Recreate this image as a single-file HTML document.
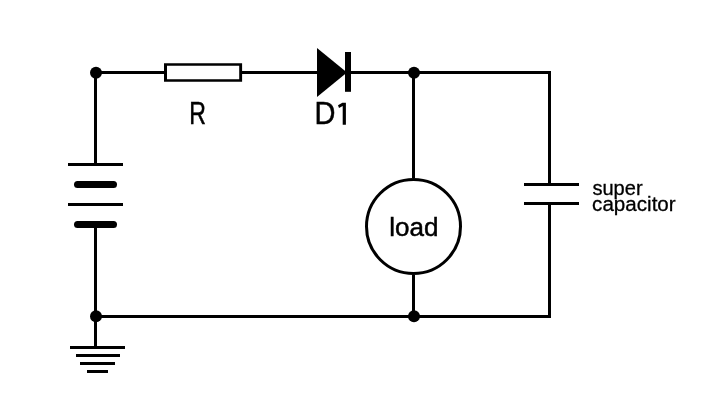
<!DOCTYPE html>
<html><head><meta charset="utf-8">
<style>
html,body{margin:0;padding:0;background:#fff;width:720px;height:401px;overflow:hidden;}
svg{display:block;will-change:transform;}
text{font-family:"Liberation Sans",sans-serif;fill:#000;}
</style></head>
<body>
<svg width="720" height="401" viewBox="0 0 720 401" xmlns="http://www.w3.org/2000/svg">
<rect x="0" y="0" width="720" height="401" fill="#fff"/>
<g fill="none" stroke="#000" stroke-width="3" stroke-linejoin="miter" stroke-linecap="butt">
  <!-- top wire -->
  <path d="M96 72.5 H164"/>
  <path d="M242 72.5 H317"/>
  <path d="M351 72.5 H549.5 V183"/>
  <!-- right wire lower -->
  <path d="M549.5 205 V316.5 H96"/>
  <!-- left wire -->
  <path d="M95.5 72.5 V163"/>
  <path d="M95.5 228 V346"/>
  <!-- load wire -->
  <path d="M413.5 72.5 V178"/>
  <path d="M413.5 275 V316.5"/>
  <!-- battery long plates -->
  <path d="M68 164.5 H123"/>
  <path d="M68 204.5 H123"/>
  <!-- capacitor plates -->
  <path d="M524 184.5 H579"/>
  <path d="M524 203.5 H579"/>
  <!-- ground -->
  <path d="M70 347.5 H125"/>
  <path d="M76 355.5 H120"/>
  <path d="M80 363.5 H115"/>
  <path d="M87 371.5 H108"/>
  <!-- load circle -->
  <circle cx="413.5" cy="226.5" r="47"/>
</g>
<g stroke="#000" stroke-width="7" stroke-linecap="round">
  <path d="M77.5 184.5 H113.5"/>
  <path d="M77.5 224.5 H113.5"/>
</g>
<g fill="#000">
  <circle cx="96" cy="72.8" r="6"/>
  <circle cx="414" cy="72.8" r="6"/>
  <circle cx="96" cy="316.2" r="6"/>
  <circle cx="414" cy="316.2" r="6"/>
  <!-- diode -->
  <path d="M317 48 L317 97 L347 72.5 Z"/>
  <rect x="345" y="52" width="6" height="39.8"/>
  <path fill-rule="evenodd" d="M164 63.2 H242.1 V81.8 H164 Z M167 65.7 V79.2 H239.2 V65.7 Z"/>
</g>
<path d="M342.4 102.8 H345.9 V124.7 H342.7 V106.0 L339 107.9 L338 105.2 Z"/>
<text transform="translate(189.168 124.478) scale(0.7171 1)" font-size="32.199" stroke="#000" stroke-width="0.488">R</text>
<text transform="translate(314.474 124.44) scale(0.9041 1)" font-size="32.086" stroke="#000" stroke-width="0.486">D</text>
<text transform="translate(389.338 236.332) scale(1.029 1)" font-size="25.294" stroke="#000" stroke-width="0.468">load</text>
<text transform="translate(592.399 194.692) scale(0.9769 1)" font-size="20.536" stroke="#000" stroke-width="0.308">super</text>
<text transform="translate(592.078 210.592) scale(1.0042 1)" font-size="20.536" stroke="#000" stroke-width="0.293">capacitor</text>
</svg>
</body></html>
